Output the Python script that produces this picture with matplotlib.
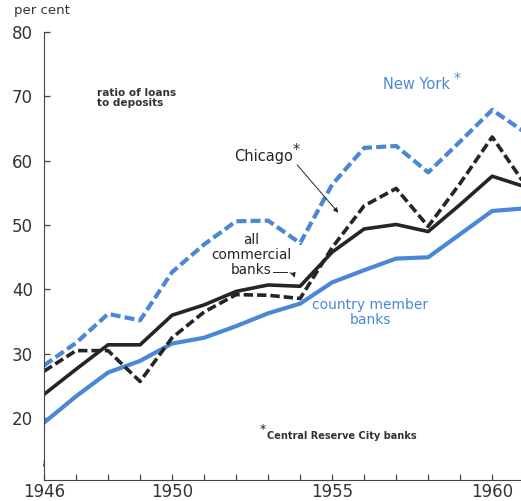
import matplotlib.pyplot as plt
import numpy as np

years = np.arange(1946, 1962)

new_york = [28.2, 31.7, 36.2, 35.2, 42.7, 47.0, 50.6, 50.7, 47.2, 56.3,
            62.0, 62.3, 58.2, 63.0, 67.9, 64.5]
chicago = [27.3, 30.5, 30.5, 25.7, 32.5, 36.5, 39.2, 39.1, 38.6, 46.5,
           53.0, 55.7, 49.8, 56.5, 63.7, 56.5]
all_commercial = [23.7, 27.6, 31.4, 31.4, 36.0, 37.6, 39.7, 40.7, 40.5, 45.8,
                  49.4, 50.1, 49.0, 53.2, 57.6, 56.0]
country_member = [19.3, 23.4, 27.1, 28.9, 31.6, 32.5, 34.3, 36.3, 37.8, 41.1,
                  43.0, 44.8, 45.0, 48.6, 52.2, 52.6]

blue = "#4a88d6"
black = "#252525"

fig = plt.figure(figsize=(5.21, 5.01), dpi=100)
ax = fig.add_axes([0.0845, 0.042, 0.9155, 0.894])

ax.plot(years, country_member, color=blue, linewidth=3.0)
ax.plot(years, all_commercial, color=black, linewidth=2.6)
ax.plot(years, new_york, color=blue, linewidth=3.0, dashes=(2.4, 1.0))
ax.plot(years, chicago, color=black, linewidth=2.6, dashes=(2.6, 1.1))

ax.set_xlim(1946, 1960.9)
ax.set_ylim(10.4, 80)

ax.spines["top"].set_visible(False)
ax.spines["right"].set_visible(False)
ax.spines["left"].set_color("#444444")
ax.spines["bottom"].set_color("#444444")

ax.set_xticks(np.arange(1946, 1961))
ax.set_xticklabels([str(y) if y in (1946, 1950, 1955, 1960) else "" for y in range(1946, 1961)])
ax.set_yticks([20, 30, 40, 50, 60, 70, 80])
ax.tick_params(direction="in", length=4, width=0.9, color="#444444",
               labelsize=12, labelcolor="#333333")
ax.tick_params(axis="x", pad=2)
ax.tick_params(axis="y", pad=8)

# axis break mark
ax.text(1946.03, 13.2, "~", rotation=90, fontsize=7, color="#444444",
        ha="center", va="center")

fig.text(0.027, 0.98, "per cent", fontsize=9.5, color="#333333", va="center")

ax.text(1947.65, 69.8, "ratio of loans\nto deposits", fontsize=7.6, fontweight="bold",
        color="#333333", va="center", linespacing=0.95)
ax.text(1956.6, 71.8, "New York", fontsize=10.5, color=blue, va="center")
ax.text(1958.8, 72.8, "*", fontsize=10, color=blue, va="center")
ax.text(1951.95, 60.7, "Chicago", fontsize=10.5, color=black, va="center")
ax.text(1953.75, 61.8, "*", fontsize=10, color=black, va="center")
ax.annotate("", xy=(1955.25, 51.6), xytext=(1953.85, 59.7),
            arrowprops=dict(arrowstyle="-|>", color=black, lw=0.7,
                            mutation_scale=7))
ax.text(1952.47, 45.4, "all\ncommercial\nbanks", fontsize=9.8, color=black,
        ha="center", va="center", linespacing=1.1)
ax.plot([1953.15, 1953.6], [42.7, 42.7], color=black, linewidth=0.7)
ax.annotate("", xy=(1953.85, 41.4), xytext=(1953.6, 42.7),
            arrowprops=dict(arrowstyle="-|>", color=black, lw=0.7,
                            mutation_scale=7,
                            connectionstyle="arc3,rad=-0.4"))
ax.text(1956.2, 36.4, "country member\nbanks", fontsize=10, color=blue,
        ha="center", va="center", linespacing=1.1)
ax.text(1952.75, 18.2, "*", fontsize=9, color=black, va="center")
ax.text(1952.97, 17.3, "Central Reserve City banks", fontsize=7, fontweight="bold",
        color="#333333", va="center")

fig.savefig("out.png", dpi=100)
